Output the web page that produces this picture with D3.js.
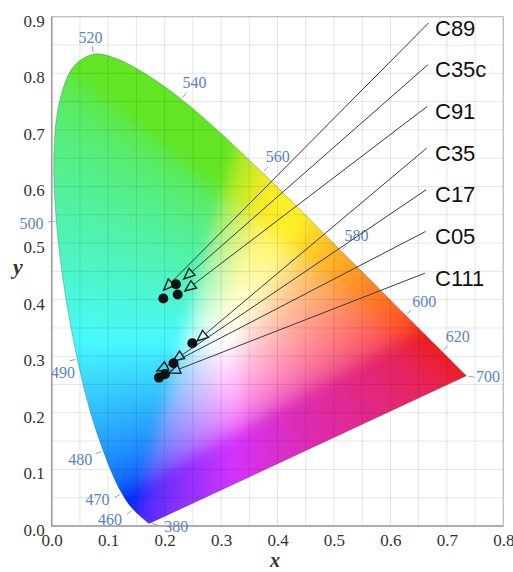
<!DOCTYPE html>
<html>
<head>
<meta charset="utf-8">
<script src="https://cdn.jsdelivr.net/npm/d3@7/dist/d3.min.js"></script>
<style>
  html, body { margin: 0; padding: 0; background: #fff; }
  svg { display: block; }
</style>
</head>
<body>
<div id="chart"></div>
<script>
// CIE 1931 2° spectral locus, 380–700 nm in 5 nm steps
const wavelengths = d3.range(380, 701, 5);
const locusX = [0.1741,0.1740,0.1738,0.1736,0.1733,0.1730,0.1726,0.1721,0.1714,0.1703,0.1689,0.1669,0.1644,0.1611,0.1566,0.1510,
  0.1440,0.1355,0.1241,0.1096,0.0913,0.0687,0.0454,0.0235,0.0082,0.0039,0.0139,0.0389,0.0743,0.1142,0.1547,0.1929,
  0.2296,0.2658,0.3016,0.3373,0.3731,0.4087,0.4441,0.4788,0.5125,0.5448,0.5752,0.6029,0.6270,0.6482,0.6658,0.6801,
  0.6915,0.7006,0.7079,0.7140,0.7190,0.7230,0.7260,0.7283,0.7300,0.7311,0.7320,0.7327,0.7334,0.7340,0.7344,0.7346,0.7347];
const locusY = [0.0050,0.0050,0.0049,0.0049,0.0048,0.0048,0.0048,0.0048,0.0051,0.0058,0.0069,0.0086,0.0109,0.0138,0.0177,0.0227,
  0.0297,0.0399,0.0578,0.0868,0.1327,0.2007,0.2950,0.4127,0.5384,0.6548,0.7502,0.8120,0.8338,0.8262,0.8059,0.7816,
  0.7543,0.7243,0.6923,0.6589,0.6245,0.5896,0.5547,0.5202,0.4866,0.4544,0.4242,0.3965,0.3725,0.3514,0.3340,0.3197,
  0.3083,0.2993,0.2920,0.2859,0.2809,0.2770,0.2740,0.2717,0.2700,0.2689,0.2680,0.2673,0.2666,0.2660,0.2656,0.2654,0.2653];
const markedWavelengths = [380, 460, 470, 480, 490, 500, 520, 540, 560, 580, 600, 620, 700];

// Measured samples (chromaticity x, y) and where each label arrow ends
const sampleNames = ["C89", "C35c", "C91", "C35", "C17", "C05", "C111"];
const sampleX = [0.1977, 0.2202, 0.2232, 0.2491, 0.2158, 0.1901, 0.2007];
const sampleY = [0.4020, 0.4271, 0.4091, 0.3228, 0.2875, 0.2622, 0.2682];
const arrowTipX = [0.1985, 0.2340, 0.2360, 0.2574, 0.2149, 0.1865, 0.2078];
const arrowTipY = [0.4170, 0.4365, 0.4153, 0.3269, 0.2916, 0.2739, 0.2704];

const xTickValues = [0, 0.1, 0.2, 0.3, 0.4, 0.5, 0.6, 0.7, 0.8];
const yTickValues = [0, 0.1, 0.2, 0.3, 0.4, 0.5, 0.6, 0.7, 0.8, 0.9];

const W = 513, H = 572;
const x = d3.scaleLinear().domain([0, 0.8]).range([51.7, 503.3]);
const y = d3.scaleLinear().domain([0, 0.9]).range([526, 16.7]);

const svg = d3.select("#chart").append("svg").attr("width", W).attr("height", H);
svg.append("rect").attr("width", W).attr("height", H).attr("fill", "#fff");

// ---- colour fill of the gamut, rendered on a canvas ----
const locusPx = wavelengths.map((w, i) => [x(locusX[i]), y(locusY[i])]);
const locusCurve = d3.line().curve(d3.curveCatmullRom.alpha(0.5));

function encode(v) {
  return v <= 0.0031308 ? 12.92 * v : 1.055 * Math.pow(v, 1 / 2.4) - 0.055;
}
// print-like palette: mixes channels slightly toward a lighter rendering
function soften([r, g, b]) {
  return [
    0.85 * r + 0.30 * g - 0.10 * b + 0.08,
    0.04 * r + 0.82 * g + 0.08 * b + 0.08,
    0.02 * r + 0.02 * g + 0.86 * b + 0.12
  ].map(v => Math.round(Math.max(0, Math.min(1, v)) * 255));
}
function chromaticityToRGB(cx, cy) {
  const X = cx / cy, Y = 1, Z = (1 - cx - cy) / cy;
  let r = 3.2406 * X - 1.5372 * Y - 0.4986 * Z;
  let g = -0.9689 * X + 1.8758 * Y + 0.0415 * Z;
  let b = 0.0557 * X - 0.2040 * Y + 1.0570 * Z;
  r = Math.max(r, 0); g = Math.max(g, 0); b = Math.max(b, 0);
  const m = Math.max(r, g, b) || 1;
  return soften([encode(r / m), encode(g / m), encode(b / m)]);
}

const pad = 24;
const x0 = Math.floor(x.range()[0]), x1 = Math.ceil(x.range()[1]);
const y0 = Math.floor(y.range()[1]), y1 = Math.ceil(y.range()[0]);
const cw = x1 - x0, ch = y1 - y0;
const raw = document.createElement("canvas");
raw.width = cw + 2 * pad; raw.height = ch + 2 * pad;
const rctx = raw.getContext("2d");
const img = rctx.createImageData(raw.width, raw.height);
for (let j = 0; j < raw.height; j++) {
  const cy = Math.max(y.invert(y0 - pad + j + 0.5), 0.004);
  for (let i = 0; i < raw.width; i++) {
    const cx = Math.max(x.invert(x0 - pad + i + 0.5), 0.001);
    const [r, g, b] = chromaticityToRGB(cx, Math.min(cy, 0.999 - cx));
    const k = (j * raw.width + i) * 4;
    img.data[k] = r; img.data[k + 1] = g; img.data[k + 2] = b; img.data[k + 3] = 255;
  }
}
rctx.putImageData(img, 0, 0);

const fillCanvas = document.createElement("canvas");
fillCanvas.width = cw; fillCanvas.height = ch;
const fctx = fillCanvas.getContext("2d");
const clipPath = new Path2D(locusCurve(locusPx.map(p => [p[0] - x0, p[1] - y0])) + "Z");
fctx.clip(clipPath);
fctx.filter = "blur(6px)";
fctx.drawImage(raw, -pad, -pad);
fctx.filter = "none";

svg.append("image")
  .attr("x", x0).attr("y", y0).attr("width", cw).attr("height", ch)
  .attr("href", fillCanvas.toDataURL());

// ---- grid ----
const grid = svg.append("g");
grid.selectAll("line.gx").data(x.ticks(16)).join("line")
  .attr("x1", d => x(d)).attr("x2", d => x(d))
  .attr("y1", y.range()[0]).attr("y2", y.range()[1])
  .attr("stroke", "rgba(0,0,0,0.10)").attr("stroke-width", 1);
grid.selectAll("line.gy").data(y.ticks(18)).join("line")
  .attr("y1", d => y(d)).attr("y2", d => y(d))
  .attr("x1", x.range()[0]).attr("x2", x.range()[1])
  .attr("stroke", "rgba(0,0,0,0.10)").attr("stroke-width", 1);

// frame
svg.append("rect")
  .attr("x", x.range()[0]).attr("y", y.range()[1])
  .attr("width", x.range()[1] - x.range()[0]).attr("height", y.range()[0] - y.range()[1])
  .attr("fill", "none").attr("stroke", "#bdbdbd").attr("stroke-width", 1.2);
svg.append("line")
  .attr("x1", x.range()[0]).attr("x2", x.range()[0]).attr("y1", y.range()[1]).attr("y2", y.range()[0])
  .attr("stroke", "#a0a0a0").attr("stroke-width", 1.6);
svg.append("line")
  .attr("x1", x.range()[0]).attr("x2", x.range()[1]).attr("y1", y.range()[0]).attr("y2", y.range()[0])
  .attr("stroke", "#a0a0a0").attr("stroke-width", 1.6);

// locus outline
svg.append("path")
  .attr("d", locusCurve(locusPx) + "Z")
  .attr("fill", "none").attr("stroke", "rgba(40,70,40,0.35)").attr("stroke-width", 0.9);

// ---- axes ----
const tickFont = "'Liberation Serif', 'Times New Roman', serif";
const xAxis = svg.append("g").attr("transform", `translate(0,${y.range()[0]})`)
  .call(d3.axisBottom(x).tickValues(xTickValues).tickFormat(d3.format(".1f")).tickSize(0).tickPadding(8));
const yAxis = svg.append("g").attr("transform", `translate(${x.range()[0]},0)`)
  .call(d3.axisLeft(y).tickValues(yTickValues).tickFormat(d3.format(".1f")).tickSize(0).tickPadding(7));
[xAxis, yAxis].forEach(a => {
  a.select(".domain").remove();
  a.selectAll("text").attr("font-family", tickFont).attr("font-size", 17).attr("fill", "#333");
});
yAxis.selectAll("text").attr("dy", "0.55em");

svg.append("text").text("x")
  .attr("x", 275).attr("y", 566.5).attr("text-anchor", "middle")
  .attr("font-family", tickFont).attr("font-style", "italic").attr("font-weight", "bold")
  .attr("font-size", 20).attr("fill", "#333");
svg.append("text").text("y")
  .attr("x", 18).attr("y", 274).attr("text-anchor", "middle")
  .attr("font-family", tickFont).attr("font-style", "italic").attr("font-weight", "bold")
  .attr("font-size", 22).attr("fill", "#333");

// ---- wavelength markers ----
const n = locusPx.length;
function walk(i, dir) {
  const p = locusPx[i];
  let k = i;
  for (let s = 0; s < n; s++) {
    k = (k + dir + n) % n;
    const q = locusPx[k];
    if (Math.hypot(q[0] - p[0], q[1] - p[1]) > 15) return q;
  }
  return locusPx[k];
}
function unit(v) { const l = Math.hypot(v[0], v[1]) || 1; return [v[0] / l, v[1] / l]; }

// small label shifts so labels clear the axis labels and the blue corner
const labelShift = { 380: [2, -2], 490: [10, 8], 470: [-4, -6], 460: [-6, -5], 700: [-3, -4], 600: [3, 2] };
const markers = markedWavelengths.map(w => {
  const i = wavelengths.indexOf(w);
  const p = locusPx[i];
  const a = unit([p[0] - walk(i, -1)[0], p[1] - walk(i, -1)[1]]);
  const b = unit([walk(i, 1)[0] - p[0], walk(i, 1)[1] - p[1]]);
  let nrm = unit([a[1] + b[1], -(a[0] + b[0])]);
  if (nrm[1] > 0.8) nrm = unit([1, 0.2]);     // keep labels above the x axis
  const d = 15 + 10 * Math.abs(nrm[0]);
  const s = labelShift[w] || [0, 0];
  return { w, p, nrm, lx: p[0] + nrm[0] * d + s[0], ly: p[1] + nrm[1] * d + s[1] };
});
const wl = svg.append("g");
wl.selectAll("line").data(markers).join("line")
  .attr("x1", d => d.p[0] + d.nrm[0] * 2).attr("y1", d => d.p[1] + d.nrm[1] * 2)
  .attr("x2", d => d.p[0] + d.nrm[0] * 8).attr("y2", d => d.p[1] + d.nrm[1] * 8)
  .attr("stroke", "#8aa2c8").attr("stroke-width", 1);
wl.selectAll("text").data(markers).join("text")
  .text(d => d.w)
  .attr("x", d => d.lx).attr("y", d => d.ly)
  .attr("dy", "0.35em").attr("text-anchor", "middle")
  .attr("font-family", tickFont).attr("font-size", 16).attr("fill", "#5a82c4");

// ---- sample points with labelled arrows ----
const labelX = 435, labelTop = 35.5, labelStep = 41.7;
const samples = sampleNames.map((name, i) => ({
  name,
  px: x(sampleX[i]), py: y(sampleY[i]),
  tx: x(arrowTipX[i]), ty: y(arrowTipY[i]),
  lx: labelX, ly: labelTop + i * labelStep,
  sx: 428.5 - i * 0.6, sy: labelTop + i * labelStep - 12.5
}));

const arrows = svg.append("g");
const headLen = 11, headHalf = 4.6;
samples.forEach(s => {
  const u = unit([s.sx - s.tx, s.sy - s.ty]);
  const nv = [-u[1], u[0]];
  const bx = s.tx + u[0] * headLen, by = s.ty + u[1] * headLen;
  arrows.append("line")
    .attr("x1", s.sx).attr("y1", s.sy).attr("x2", bx).attr("y2", by)
    .attr("stroke", "#3a3a3a").attr("stroke-width", 1);
  arrows.append("path")
    .attr("d", d3.line()([[s.tx, s.ty], [bx + nv[0] * headHalf, by + nv[1] * headHalf], [bx - nv[0] * headHalf, by - nv[1] * headHalf]]) + "Z")
    .attr("fill", "none").attr("stroke", "#222").attr("stroke-width", 1.4).attr("stroke-linejoin", "miter");
});

svg.append("g").selectAll("circle").data(samples).join("circle")
  .attr("cx", d => d.px).attr("cy", d => d.py).attr("r", 5)
  .attr("fill", "#111");

svg.append("g").selectAll("text").data(samples).join("text")
  .text(d => d.name)
  .attr("x", d => d.lx).attr("y", d => d.ly)
  .attr("font-family", "'Liberation Sans', Arial, sans-serif").attr("font-size", 22)
  .attr("fill", "#111");
</script>
</body>
</html>
